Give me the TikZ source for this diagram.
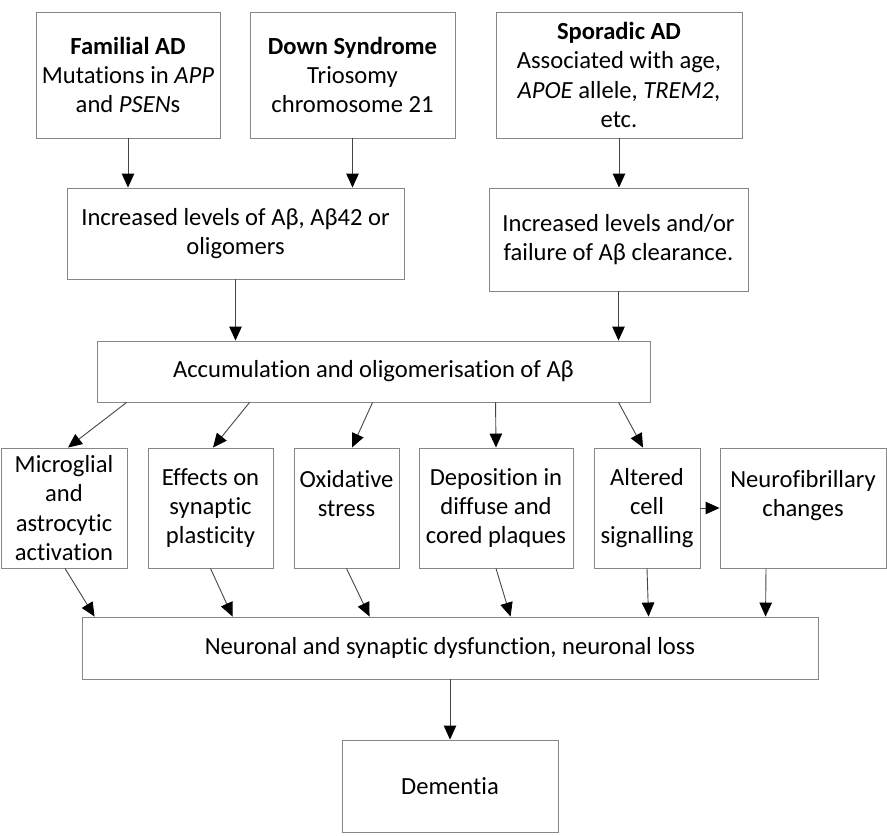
\documentclass[tikz,border=0pt]{standalone}
\usepackage{fontspec}
\setmainfont{Carlito}[Ligatures={NoCommon,NoContextual}]
\usetikzlibrary{arrows.meta}
\definecolor{boxgray}{RGB}{135,135,135}
\definecolor{linegray}{RGB}{70,70,70}
\begin{document}
\begin{tikzpicture}[x=1pt,y=-1pt,
  box/.style={draw=boxgray,line width=0.9pt,inner sep=0pt,align=center,
    font=\fontsize{24.6}{29.3}\selectfont},
  arr/.style={draw=linegray,line width=0.9pt,-{Triangle[width=12.5pt,length=14pt,color=black]}}]
\useasboundingbox (0,0) rectangle (887,836);
% top row
\node[box,minimum width=184pt,minimum height=126pt] (fam) at (128,75)
  {\textbf{Familial AD}\\Mutations in \textit{APP}\\and \textit{PSEN}s};
\node[box,minimum width=205pt,minimum height=126pt] (down) at (352.5,75)
  {\textbf{Down Syndrome}\\Triosomy\\chromosome 21};
\node[box,minimum width=246pt,minimum height=126pt] (spo) at (619,75)
  {\textbf{Sporadic AD}\\Associated with age,\\\textit{APOE} allele, \textit{TREM2},\\etc.};
% second row
\node[box,minimum width=337pt,minimum height=91pt] (inc1) at (235.5,233.5)
  {Increased levels of Aβ, Aβ42 or\\oligomers};
\node[box,minimum width=259pt,minimum height=103pt] (inc2) at (618.5,239.5)
  {Increased levels and/or\\failure of Aβ clearance.};
% accumulation
\node[box,minimum width=553pt,minimum height=61pt] (acc) at (373.5,371.5)
  {Accumulation and oligomerisation of Aβ};
% effects row
\node[box,minimum width=126pt,minimum height=120pt] (mic) at (64,508)
  {Microglial\\and\\astrocytic\\activation};
\node[box,minimum width=125pt,minimum height=120pt] (syn) at (210.5,508)
  {Effects on\\synaptic\\plasticity};
\node[box,minimum width=105pt,minimum height=120pt] (oxi) at (346.5,508)
  {Oxidative\\stress\\\mbox{}};
\node[box,minimum width=154pt,minimum height=120pt] (dep) at (496,508)
  {Deposition in\\diffuse and\\cored plaques};
\node[box,minimum width=106pt,minimum height=120pt] (alt) at (647,508)
  {Altered\\cell\\signalling};
\node[box,minimum width=166pt,minimum height=120pt] (neu) at (803,508)
  {Neurofibrillary\\changes\\\mbox{}};
% bottom
\node[box,minimum width=736pt,minimum height=62pt] (los) at (450,648)
  {Neuronal and synaptic dysfunction, neuronal loss};
\node[box,minimum width=216pt,minimum height=92pt] (dem) at (450,786)
  {Dementia};
% arrows top
\draw[arr] (fam.south) -- (inc1.north -| fam.south);
\draw[arr] (down.south) -- (inc1.north -| down.south);
\draw[arr] (spo.south) -- (inc2.north -| spo.south);
\draw[arr] (inc1.south) -- (acc.north -| inc1.south);
\draw[arr] (inc2.south) -- (acc.north -| inc2.south);
% arrows from accumulation
\draw[arr] ([xshift=30pt]acc.south west) -- ([xshift=4pt]mic.north);
\draw[arr] ([xshift=153pt]acc.south west) -- ([xshift=2.5pt]syn.north);
\draw[arr] ([xshift=276pt]acc.south west) -- ([xshift=5.5pt]oxi.north);
\draw[arr] ([xshift=399pt]acc.south west) -- (dep.north);
\draw[arr] ([xshift=522pt]acc.south west) -- ([xshift=-4pt]alt.north);
\draw[arr] (alt.east) -- (neu.west);
% arrows to loss
\draw[arr] ([xshift=1pt]mic.south) -- ([xshift=13pt]los.north west);
\draw[arr] (syn.south) -- ([xshift=151pt]los.north west);
\draw[arr] (oxi.south) -- ([xshift=288pt]los.north west);
\draw[arr] (dep.south) -- ([xshift=429pt]los.north west);
\draw[arr] (alt.south) -- ([xshift=567pt]los.north west);
\draw[arr] ([xshift=-37pt]neu.south) -- ([xshift=684pt]los.north west);
\draw[arr] (los.south) -- (dem.north);
\end{tikzpicture}
\end{document}
